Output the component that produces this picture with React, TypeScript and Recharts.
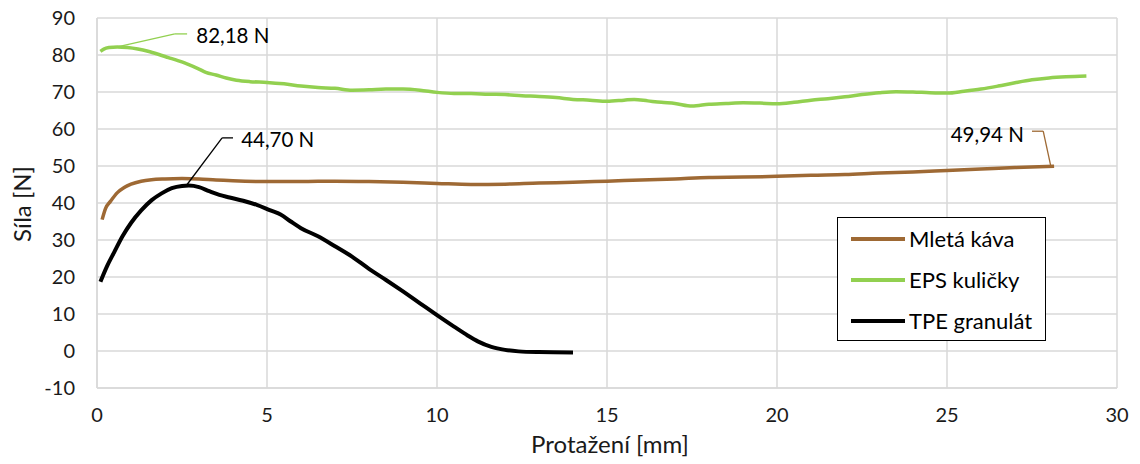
import React from 'react';
import { LineChart, Line, XAxis, YAxis, CartesianGrid, ReferenceLine, ReferenceDot } from 'recharts';

const FONT = 'Lato, "Open Sans", sans-serif';
const TEXT = '#1a1a1a';
const BROWN = '#9e6934';
const GREEN = '#92d050';
const BLACK = '#000000';

const xTicks = [0, 5, 10, 15, 20, 25, 30];
const yTicks = [-10, 0, 10, 20, 30, 40, 50, 60, 70, 80, 90];

const epsX = [0.1, 0.2, 0.35, 0.6, 0.9, 1.2, 1.5, 1.8, 2.1, 2.4, 2.7, 3.0, 3.2, 3.5, 3.8, 4.1, 4.5, 5.0, 5.5, 6.0, 6.5, 7.0, 7.5, 8.0, 8.5, 9.0, 9.5, 10.0, 10.5, 11.0, 11.5, 12.0, 12.5, 13.0, 13.5, 14.0, 14.5, 15.0, 15.5, 15.8, 16.2, 16.6, 17.0, 17.5, 18.0, 18.5, 19.0, 19.5, 20.0, 20.5, 21.0, 21.5, 22.0, 22.5, 23.0, 23.5, 24.0, 24.5, 25.0, 25.5, 26.0, 26.5, 27.0, 27.5, 28.0, 28.5, 29.1];
const epsY = [81.0, 81.6, 82.0, 82.18, 82.0, 81.6, 81.0, 80.2, 79.3, 78.4, 77.4, 76.2, 75.3, 74.6, 73.8, 73.2, 72.8, 72.6, 72.2, 71.6, 71.2, 71.0, 70.5, 70.6, 70.8, 70.8, 70.5, 69.9, 69.6, 69.6, 69.4, 69.3, 69.0, 68.8, 68.5, 68.0, 67.8, 67.5, 67.8, 68.0, 67.6, 67.2, 66.9, 66.2, 66.7, 66.9, 67.1, 67.0, 66.8, 67.2, 67.8, 68.2, 68.7, 69.3, 69.8, 70.1, 70.0, 69.8, 69.7, 70.2, 70.8, 71.6, 72.5, 73.3, 73.8, 74.1, 74.3];

const kavaX = [0.15, 0.25, 0.4, 0.6, 0.8, 1.0, 1.3, 1.6, 2.0, 2.5, 3.0, 3.5, 4.0, 5.0, 6.0, 7.0, 8.0, 9.0, 10.0, 11.0, 12.0, 13.0, 14.0, 15.0, 16.0, 17.0, 18.0, 19.0, 20.0, 21.0, 22.0, 23.0, 24.0, 25.0, 26.0, 27.0, 28.15];
const kavaY = [35.5, 38.5, 40.5, 42.8, 44.2, 45.1, 45.9, 46.3, 46.5, 46.6, 46.5, 46.2, 46.0, 45.8, 45.8, 45.9, 45.8, 45.6, 45.3, 45.0, 45.1, 45.4, 45.6, 45.9, 46.2, 46.5, 46.9, 47.0, 47.2, 47.5, 47.7, 48.1, 48.4, 48.8, 49.2, 49.6, 49.94];

const tpeX = [0.1, 0.3, 0.5, 0.75, 1.0, 1.3, 1.6, 1.9, 2.2, 2.5, 2.7, 3.0, 3.3, 3.6, 3.9, 4.3, 4.7, 5.1, 5.4, 5.7, 6.0, 6.5, 7.0, 7.5, 8.0, 8.5, 9.0, 9.5, 10.0, 10.5, 10.9, 11.2, 11.6, 12.0, 12.4, 13.0, 14.0];
const tpeY = [18.7, 23.0, 26.6, 31.0, 34.6, 38.0, 40.7, 42.6, 44.0, 44.6, 44.7, 44.3, 43.2, 42.2, 41.5, 40.6, 39.5, 38.0, 36.9, 35.0, 33.2, 31.0, 28.3, 25.5, 22.2, 19.2, 16.1, 12.9, 9.7, 6.6, 4.2, 2.6, 1.1, 0.3, -0.1, -0.3, -0.4];

const seriesNames = ['Mletá káva', 'EPS kuličky', 'TPE granulát'];
const seriesColors = [BROWN, GREEN, BLACK];

// annotation leaders: [peak point, bend point, end point] in data units, label anchor
const annEpsPts = [[0.6, 82.18], [2.29, 85.7], [2.65, 85.7]];
const annEpsText = { x: 2.92, y: 85.2, text: '82,18 N' };
const annTpePts = [[2.65, 45.0], [3.68, 57.6], [4.0, 57.6]];
const annTpeText = { x: 4.24, y: 57.1, text: '44,70 N' };
const annKavaPts = [[28.05, 50.1], [27.83, 59.4], [27.5, 59.4]];
const annKavaText = { x: 27.26, y: 58.5, text: '49,94 N' };

const zip = (xs: number[], ys: number[]) => xs.map((x, i) => ({ x, y: ys[i] }));
const kavaData = zip(kavaX, kavaY);
const epsData = zip(epsX, epsY);
const tpeData = zip(tpeX, tpeY);

const segs = (pts: number[][]) =>
  pts.slice(0, -1).map((p, i) => [{ x: p[0], y: p[1] }, { x: pts[i + 1][0], y: pts[i + 1][1] }]);

const LegendBox = () => (
  <div
    style={{
      position: 'absolute',
      left: 837,
      top: 217,
      width: 209,
      height: 124,
      border: '1.5px solid #000',
      background: '#fff',
      boxSizing: 'border-box',
      fontFamily: FONT,
      fontSize: 22,
      color: '#000',
      paddingTop: 0,
    }}
  >
    {seriesNames.map((n, i) => (
      <div key={n} style={{ display: 'flex', alignItems: 'center', height: 41 }}>
        <div style={{ width: 54, height: 4, background: seriesColors[i], marginLeft: 13, marginRight: 4 }} />
        <span>{n}</span>
      </div>
    ))}
  </div>
);

export default function App() {
  const annotations = [
    { pts: annEpsPts, t: annEpsText, color: GREEN, pos: 'right' },
    { pts: annTpePts, t: annTpeText, color: BLACK, pos: 'right' },
    { pts: annKavaPts, t: annKavaText, color: BROWN, pos: 'left' },
  ];
  return (
    <div style={{ position: 'absolute', left: 0, top: 0, width: 1140, height: 464, background: '#fff' }}>
      <LineChart width={1140} height={464} margin={{ top: 18, right: 23, left: 0, bottom: 0 }}>
        <CartesianGrid stroke="#d9d9d9" strokeWidth={1.5} />
        <XAxis
          type="number"
          dataKey="x"
          domain={[0, 30]}
          ticks={xTicks}
          interval={0}
          height={76}
          axisLine={{ stroke: '#d9d9d9', strokeWidth: 1.5 }}
          tickLine={false}
          tickSize={0}
          tickMargin={20}
          tick={{ fill: TEXT, fontSize: 20, fontFamily: FONT }}
          label={{
            content: (props: any) => {
              const vb = props.viewBox;
              return (
                <text x={vb.x + vb.width / 2 + 3} y={453} textAnchor="middle" fill={TEXT} fontSize={24} fontFamily={FONT}>
                  Protažení [mm]
                </text>
              );
            },
          }}
        />
        <YAxis
          type="number"
          domain={[-10, 90]}
          ticks={yTicks}
          interval={0}
          width={97}
          axisLine={{ stroke: '#d9d9d9', strokeWidth: 1.5 }}
          tickLine={false}
          tickSize={0}
          tickMargin={22}
          tick={{ fill: TEXT, fontSize: 20, fontFamily: FONT }}
          label={{
            content: (props: any) => {
              const vb = props.viewBox;
              const cy = vb.y + vb.height / 2 + 1;
              return (
                <text x={31} y={cy} transform={`rotate(-90, 31, ${cy})`} textAnchor="middle" fill={TEXT} fontSize={24} fontFamily={FONT}>
                  Síla [N]
                </text>
              );
            },
          }}
        />
        <Line data={kavaData} dataKey="y" name={seriesNames[0]} type="monotone" stroke={BROWN} strokeWidth={3.5} dot={false} isAnimationActive={false} />
        <Line data={epsData} dataKey="y" name={seriesNames[1]} type="monotone" stroke={GREEN} strokeWidth={3.5} dot={false} isAnimationActive={false} />
        <Line data={tpeData} dataKey="y" name={seriesNames[2]} type="monotone" stroke={BLACK} strokeWidth={4} dot={false} isAnimationActive={false} />
        {annotations.map((a, ai) =>
          segs(a.pts).map((s, si) => (
            <ReferenceLine key={`l${ai}-${si}`} segment={s} stroke={a.color} strokeWidth={1.3} ifOverflow="visible" />
          ))
        )}
        {annotations.map((a, ai) => (
          <ReferenceDot
            key={`d${ai}`}
            x={a.t.x}
            y={a.t.y}
            r={0}
            fill="none"
            stroke="none"
            ifOverflow="visible"
            label={{ value: a.t.text, position: a.pos as any, offset: 0, fill: '#000', fontSize: 20.5, fontFamily: FONT }}
          />
        ))}
      </LineChart>
      <LegendBox />
    </div>
  );
}
